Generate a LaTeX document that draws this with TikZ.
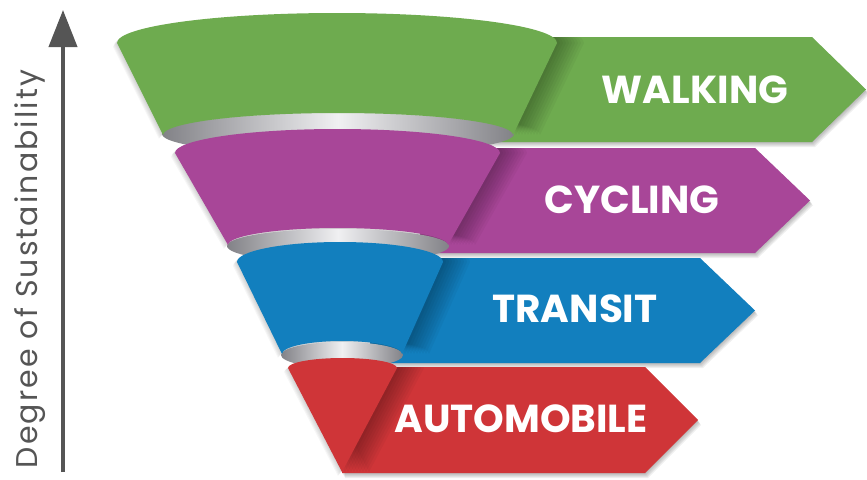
\documentclass[tikz,border=0pt]{standalone}
\usepackage{fontspec}
\newfontfamily\lblfont{Poppins}
\newfontfamily\axfont{Poppins}[LetterSpace=7]
\usetikzlibrary{arrows.meta,fadings}
\definecolor{cgreen}{RGB}{110,171,79}
\definecolor{cpurple}{RGB}{168,70,152}
\definecolor{cblue}{RGB}{18,127,190}
\definecolor{cred}{RGB}{207,53,56}
\definecolor{caxis}{RGB}{85,85,85}
\definecolor{ringdark}{RGB}{130,130,135}
\definecolor{ringlight}{RGB}{240,240,242}
% arrow outline: left, top, bottom, body right, tip
\newcommand\arrowshape[5]{(#1,#2) -- (#4,#2) -- (#5,{(#2+#3)/2}) -- (#4,#3) -- (#1,#3) -- cycle}
% funnel segments
\newcommand\segG{(117,43) arc[start angle=180,end angle=360,x radius=220,y radius=30] -- (513,135) arc[start angle=360,end angle=180,x radius=175,y radius=22] -- cycle}
\newcommand\segP{(175,153) arc[start angle=180,end angle=360,x radius=162.5,y radius=24] -- (448,245) arc[start angle=360,end angle=180,x radius=110,y radius=17] -- cycle}
\newcommand\segB{(237,262) arc[start angle=180,end angle=360,x radius=103,y radius=20] -- (402,354) arc[start angle=360,end angle=180,x radius=60,y radius=13] -- cycle}
\newcommand\segR{(288,368) arc[start angle=180,end angle=360,x radius=54.5,y radius=10] -- (342,472) -- cycle}
\tikzset{
  lbl/.style={text=white, font=\lblfont\bfseries\fontsize{39}{39}\selectfont, inner sep=0pt},
  ring/.style={left color=ringdark, right color=ringdark, middle color=ringlight},
}
\begin{document}
\begin{tikzpicture}[x=1pt,y=-1pt]
\useasboundingbox (0,0) rectangle (867,479);
% ---- arrow soft shadows
\foreach \d in {1,...,5}{
  \fill[black,opacity=0.06,shift={(\d*0.6,\d)}] \arrowshape{470}{37}{142}{812}{866};
  \fill[black,opacity=0.06,shift={(\d*0.6,\d)}] \arrowshape{420}{148}{253}{755}{810};
  \fill[black,opacity=0.06,shift={(\d*0.6,\d)}] \arrowshape{370}{258}{363}{700}{755};
  \fill[black,opacity=0.06,shift={(\d*0.6,\d)}] \arrowshape{342}{367}{473}{645}{698};
}
% ---- arrows
\fill[cgreen]  \arrowshape{470}{37}{142}{812}{866};
\fill[cpurple] \arrowshape{420}{148}{253}{755}{810};
\fill[cblue]   \arrowshape{370}{258}{363}{700}{755};
\fill[cred]    \arrowshape{342}{367}{473}{645}{698};
% ---- shadows cast by the funnel on the arrows
\begin{scope}
  \clip \arrowshape{470}{37}{142}{812}{866};
  \foreach \d in {3,6,...,27}{\fill[black,opacity=0.035,shift={(\d,0)}] \segG;}
\end{scope}
\begin{scope}
  \clip \arrowshape{420}{148}{253}{755}{810};
  \foreach \d in {3,6,...,27}{\fill[black,opacity=0.035,shift={(\d,0)}] \segP;}
\end{scope}
\begin{scope}
  \clip \arrowshape{370}{258}{363}{700}{755};
  \foreach \d in {3,6,...,27}{\fill[black,opacity=0.035,shift={(\d,0)}] \segB;}
\end{scope}
\begin{scope}
  \clip \arrowshape{342}{367}{473}{645}{698};
  \foreach \d in {3,6,...,27}{\fill[black,opacity=0.035,shift={(\d,0)}] \segR;}
\end{scope}
% ---- funnel soft halo
\foreach \d in {1,...,5}{
  \fill[black,opacity=0.035,shift={(-\d*0.8,\d*0.8)}] \segG;
  \fill[black,opacity=0.035,shift={(-\d*0.8,\d*0.8)}] \segP;
  \fill[black,opacity=0.035,shift={(-\d*0.8,\d*0.8)}] \segB;
  \fill[black,opacity=0.035,shift={(-\d*0.8,\d*0.8)}] \segR;
}
% ---- metallic rings
\shade[ring] (338,134) ellipse[x radius=176, y radius=21];
\shade[ring] (338,246) ellipse[x radius=111, y radius=17];
\shade[ring] (342,355) ellipse[x radius=61, y radius=13];
% ---- funnel segments
\fill[cgreen]  \segG;
\fill[cpurple] \segP;
\fill[cblue]   \segB;
\fill[cred]    \segR;
% ---- labels
\node[lbl] (walk)  at (695,90)  {WALKING};
\node[lbl] (cycl)  at (632,200) {CYCLING};
\node[lbl] (trans) at (575,309) {TRANSIT};
\node[lbl] (auto)  at (521,419) {AUTOMOBILE};
% ---- axis
\coordinate (axbot) at (63,472);
\coordinate (axtop) at (63,10);
\draw[caxis, line width=4, -{Triangle[width=28,length=37]}] (axbot) -- (axtop);
\node[rotate=90, anchor=base, text=caxis, inner sep=0pt,
      font=\axfont\fontsize{30}{30}\selectfont] (deg) at (37,269) {Degree of Sustainability};
\end{tikzpicture}
\end{document}
